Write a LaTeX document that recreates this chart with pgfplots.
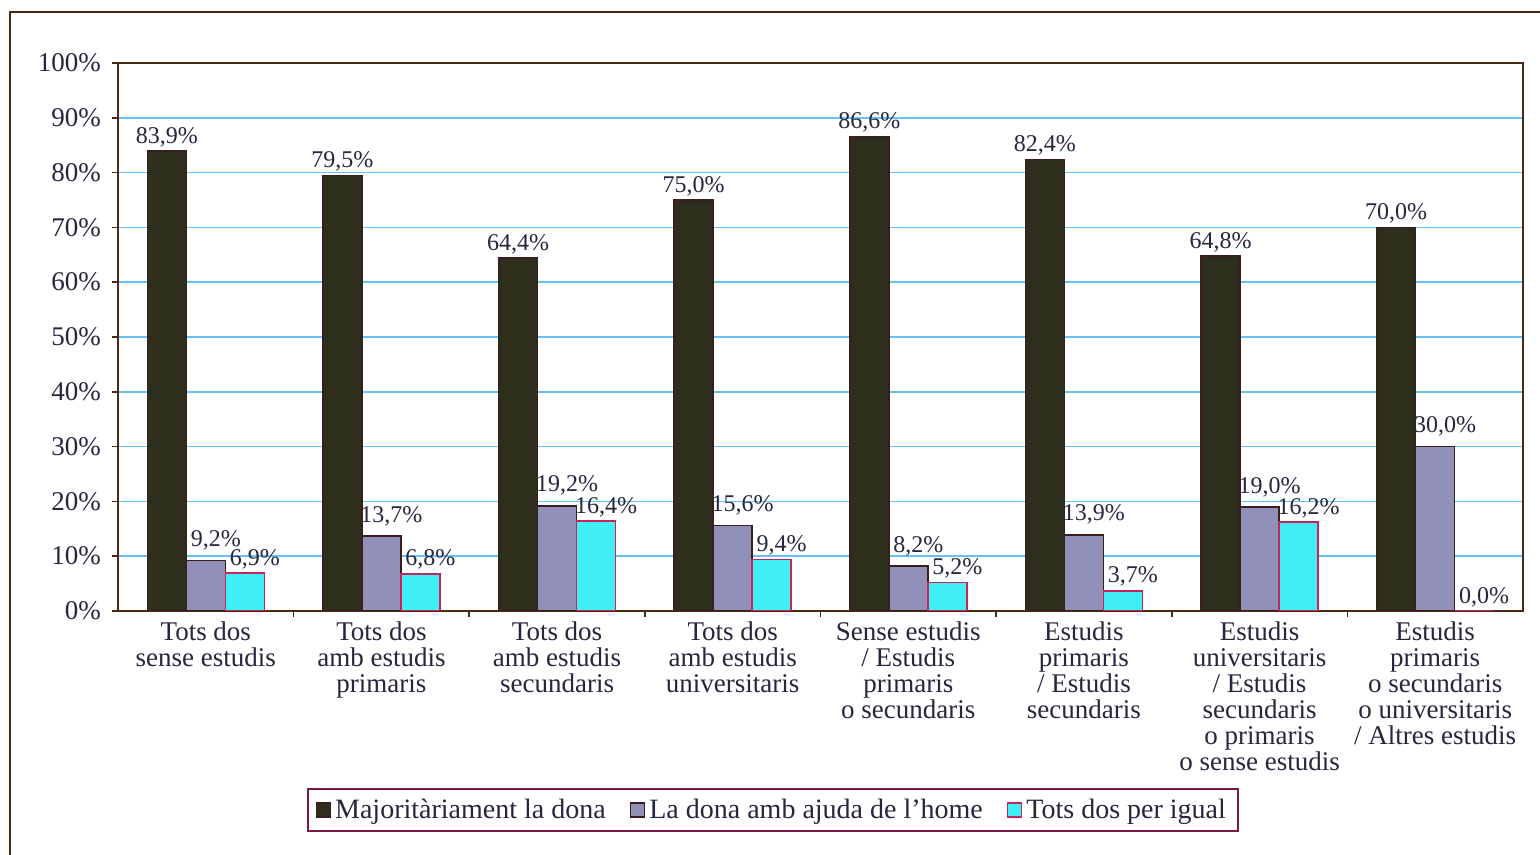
\documentclass[border=0pt]{standalone}
\usepackage{fontspec}
\setmainfont{Liberation Serif}
\usepackage{pgfplots}
\pgfplotsset{compat=1.18}
\definecolor{darkbar}{HTML}{2E2E1C}
\definecolor{slatebar}{HTML}{9090B8}
\definecolor{cyanbar}{HTML}{3FEFF5}
\definecolor{cyanedge}{HTML}{C8245A}
\definecolor{edgedark}{HTML}{3A1E1E}
\definecolor{axisbrown}{HTML}{4A2A14}
\definecolor{gridblue}{HTML}{66C2F5}
\definecolor{labelink}{HTML}{26263E}
\definecolor{legendedge}{HTML}{7A1A44}

\begin{document}
\begin{tikzpicture}
\useasboundingbox (-59pt,-122pt) rectangle (711pt,305.5pt);
\draw[axisbrown, line width=1pt] (-54pt,-122pt) -- (-54pt,299.5pt) -- (711pt,299.5pt);
\begin{axis}[
    at={(0,0)}, anchor=south west,
    scale only axis,
    width=702.5pt, height=274pt,
    ybar=0pt,
    bar width=19.5pt,
    xmin=-0.5, xmax=7.5,
    ymin=0, ymax=100,
    xtick={0,...,7},
    major x tick style={draw=none},
    minor xtick={0.5,1.5,...,6.5},
    minor tick length=3pt,
    xtick pos=bottom,
    ytick={0,10,...,100},
    ytick pos=left,
    tick align=outside,
    major tick length=3pt,
    tick style={axisbrown, line width=0.8pt},
    xticklabels={
        {Tots dos\\sense estudis},
        {Tots dos\\amb estudis\\primaris},
        {Tots dos\\amb estudis\\secundaris},
        {Tots dos\\amb estudis\\universitaris},
        {Sense estudis\\/ Estudis\\primaris\\o secundaris},
        {Estudis\\primaris\\/ Estudis\\secundaris},
        {Estudis\\universitaris\\/ Estudis\\secundaris\\o primaris\\o sense estudis},
        {Estudis\\primaris\\o secundaris\\o universitaris\\/ Altres estudis}},
    xticklabel style={align=center, font=\fontsize{13.5}{13}\selectfont, text=labelink, yshift=1pt},
    yticklabel={\pgfmathprintnumber[assume math mode=true]{\tick}\%},
    yticklabel style={font=\fontsize{13.5}{14}\selectfont, text=labelink, xshift=-2pt},
    axis line style={axisbrown, line width=1pt},
    ymajorgrids=true,
    grid style={gridblue, line width=0.8pt},
    nodes near coords={\pgfmathprintnumber[fixed,fixed zerofill,precision=1,use comma,assume math mode=true]{\pgfplotspointmeta}\%},
    every node near coord/.append style={font=\fontsize{12}{12}\selectfont, text=labelink, anchor=center, yshift=7pt},
    legend style={
        at={(0.466,-0.363)}, anchor=center,
        legend columns=-1,
        draw=legendedge, line width=1pt,
        font=\fontsize{14}{15}\selectfont, text=labelink,
        inner xsep=4pt, inner ysep=3pt,
        /tikz/every even column/.append style={column sep=10pt},
    },
    legend image code/.code={\draw[#1, line width=0.8pt] (0pt,-3.5pt) rectangle (7pt,3.5pt);},
]
\addplot[fill=darkbar, draw=edgedark, line width=0.8pt] coordinates {(0,83.9) (1,79.5) (2,64.4) (3,75.0) (4,86.6) (5,82.4) (6,64.8) (7,70.0)};
\addlegendentry{Majoritàriament la dona}
\addplot[fill=slatebar, draw=edgedark, line width=0.8pt, every node near coord/.append style={xshift=5pt, yshift=3pt}] coordinates {(0,9.2) (1,13.7) (2,19.2) (3,15.6) (4,8.2) (5,13.9) (6,19.0) (7,30.0)};
\addlegendentry{La dona amb ajuda de l’home}
\addplot[fill=cyanbar, draw=cyanedge, line width=0.8pt, every node near coord/.append style={xshift=5pt}] coordinates {(0,6.9) (1,6.8) (2,16.4) (3,9.4) (4,5.2) (5,3.7) (6,16.2) (7,0.0)};
\addlegendentry{Tots dos per igual}
\end{axis}
\end{tikzpicture}
\end{document}
